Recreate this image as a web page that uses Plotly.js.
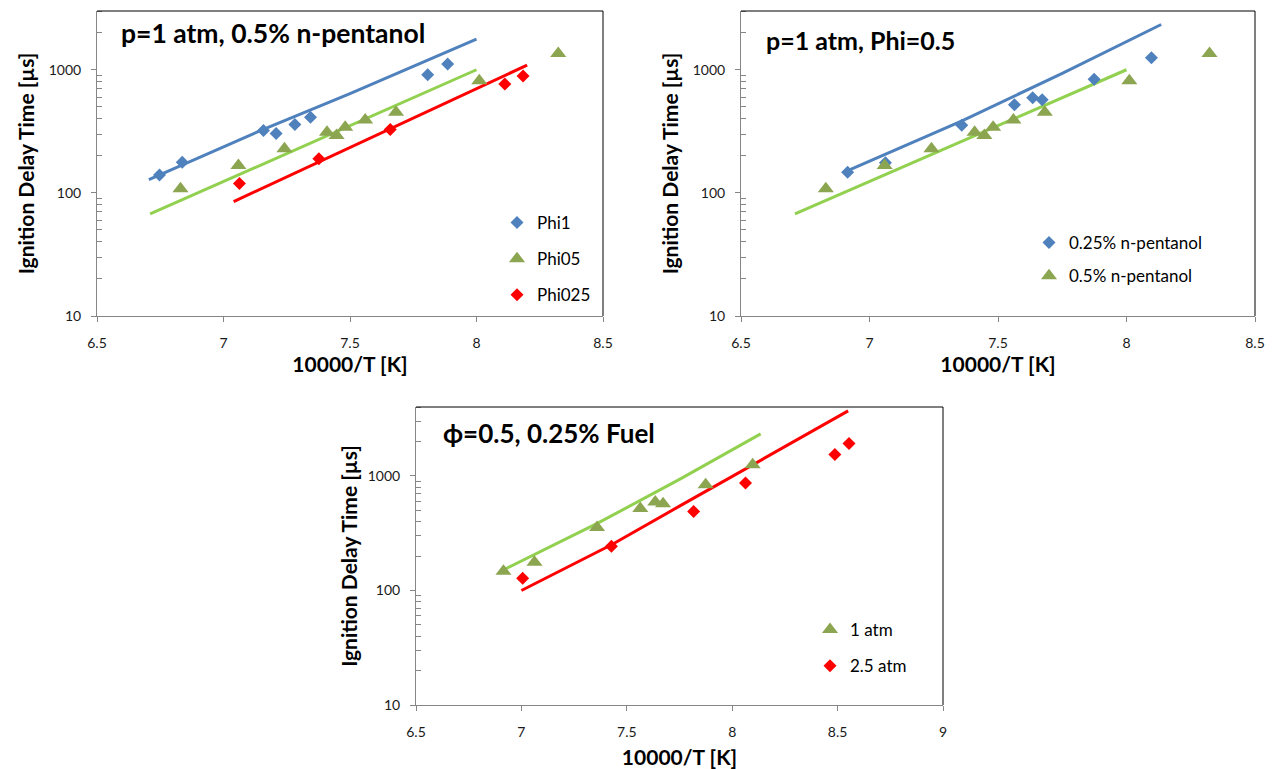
<!DOCTYPE html>
<html>
<head>
<meta charset="utf-8">
<script src="https://cdn.plot.ly/plotly-3.0.1.min.js"></script>
<style>html,body{margin:0;padding:0;background:#fff;}#chart{width:1274px;height:769px;}</style>
</head>
<body>
<div id="chart"></div>
<script>
// ---- Top-left panel: p=1 atm, 0.5% n-pentanol ----
const phi1X = [6.747, 6.837, 7.158, 7.208, 7.282, 7.344, 7.807, 7.886];
const phi1Y = [140, 177, 321, 303, 359, 411, 910, 1111];
const phi05X = [6.830, 7.059, 7.241, 7.409, 7.447, 7.481, 7.560, 7.682, 8.011, 8.323];
const phi05Y = [108, 167, 228, 311, 292, 341, 391, 452, 815, 1355];
const phi025X = [7.063, 7.377, 7.659, 8.112, 8.184];
const phi025Y = [119, 189, 327, 765, 889];
const phi1ModelX = [6.705, 7.16, 7.5, 8.0];
const phi1ModelY = [128, 330, 640, 1770];
const phi05ModelX = [6.71, 7.0, 7.5, 8.0];
const phi05ModelY = [67.5, 124, 352, 1000];
const phi025ModelX = [7.04, 7.5, 8.0, 8.2];
const phi025ModelY = [85, 235, 707, 1090];

// ---- Top-right panel: p=1 atm, Phi=0.5 ----
const pent025X = [6.915, 7.062, 7.359, 7.564, 7.635, 7.672, 7.874, 8.097];
const pent025Y = [147, 176, 354, 520, 593, 571, 839, 1250];
const pent025ModelX = [6.92, 7.36, 7.75, 8.135];
const pent025ModelY = [153, 385, 934, 2330];

// ---- Bottom panel: phi=0.5, 0.25% fuel ----
const atm25X = [7.006, 7.427, 7.817, 8.063, 8.487, 8.554];
const atm25Y = [128, 243, 490, 867, 1538, 1923];
const atm25ModelX = [7.0, 7.43, 7.75, 8.55];
const atm25ModelY = [100, 252, 545, 3700];

const yTickVals = [10, 100, 1000];
const yTickText = ['10', '100', '1000'];

const FONT = 'Lato, "Open Sans", sans-serif';
const BLUE = '#4F81BD', OLIVE = '#8CA550', GREEN = '#92D050', RED = '#FF0000';

function lineTrace(x, y, color, xa, ya) {
  return {x, y, xaxis: xa, yaxis: ya, mode: 'lines', type: 'scatter',
    line: {color, width: 3}, showlegend: false, hoverinfo: 'skip'};
}
function markTrace(x, y, name, symbol, color, size, xa, ya, legend, grp) {
  return {x, y, xaxis: xa, yaxis: ya, mode: 'markers', type: 'scatter', name,
    marker: {symbol, color, size}, legend, legendgroup: grp};
}

const data = [
  lineTrace(phi1ModelX, phi1ModelY, BLUE, 'x', 'y'),
  lineTrace(phi05ModelX, phi05ModelY, GREEN, 'x', 'y'),
  lineTrace(phi025ModelX, phi025ModelY, RED, 'x', 'y'),
  markTrace(phi1X, phi1Y, 'Phi1', 'diamond', BLUE, 10, 'x', 'y', 'legend', 'a1'),
  markTrace(phi05X, phi05Y, 'Phi05', 'triangle-up', OLIVE, 14, 'x', 'y', 'legend', 'a2'),
  markTrace(phi025X, phi025Y, 'Phi025', 'diamond', RED, 10, 'x', 'y', 'legend', 'a3'),

  lineTrace(pent025ModelX, pent025ModelY, BLUE, 'x2', 'y2'),
  lineTrace(phi05ModelX, phi05ModelY, GREEN, 'x2', 'y2'),
  markTrace(pent025X, pent025Y, '0.25% n-pentanol', 'diamond', BLUE, 10, 'x2', 'y2', 'legend2', 'b1'),
  markTrace(phi05X, phi05Y, '0.5% n-pentanol', 'triangle-up', OLIVE, 14, 'x2', 'y2', 'legend2', 'b2'),

  lineTrace(pent025ModelX, pent025ModelY, GREEN, 'x3', 'y3'),
  lineTrace(atm25ModelX, atm25ModelY, RED, 'x3', 'y3'),
  markTrace(pent025X, pent025Y, '1 atm', 'triangle-up', OLIVE, 14, 'x3', 'y3', 'legend3', 'c1'),
  markTrace(atm25X, atm25Y, '2.5 atm', 'diamond', RED, 10, 'x3', 'y3', 'legend3', 'c2')
];

const W = 1274, H = 769;
const px = v => v / W;
const py = v => 1 - v / H;

function minorVals(maxV) {
  const out = [];
  [10, 100, 1000].forEach(d => { for (let k = 2; k <= 9; k++) { if (k * d <= maxV) out.push(k * d); } });
  return out;
}

function xax(domain, range, anchor, standoff) {
  return {domain, range, anchor, tick0: 6.5, dtick: 0.5, ticks: 'outside', ticklen: 5,
    tickcolor: '#868686', showline: true, linecolor: '#868686', linewidth: 1,
    showgrid: false, zeroline: false, ticklabelstandoff: 9,
    tickfont: {size: 14, color: '#1a1a1a', family: FONT},
    title: {text: '<b>10000/T [K]</b>', font: {size: 21, color: '#000', family: FONT}, standoff},
    fixedrange: true};
}
function yax(domain, maxV, anchor, standoff) {
  return {type: 'log', domain, range: [1, Math.log10(maxV)], anchor,
    tickvals: yTickVals, ticktext: yTickText, ticks: 'outside', ticklen: 5,
    tickcolor: '#868686', showline: true, linecolor: '#868686', linewidth: 1,
    showgrid: false, zeroline: false, ticklabelstandoff: 7,
    tickfont: {size: 14, color: '#1a1a1a', family: FONT},
    minor: {tickvals: minorVals(maxV), ticks: 'inside', ticklen: 5, tickcolor: '#868686', showgrid: false},
    title: {text: '<b>Ignition Delay Time [µs]</b>', font: {size: 21, color: '#000', family: FONT}, standoff},
    fixedrange: true};
}

function frame(xa, ya) {
  return [
    {type: 'line', xref: xa + ' domain', yref: ya + ' domain', x0: 0, x1: 1, y0: 1, y1: 1, line: {color: '#000', width: 1}},
    {type: 'line', xref: xa + ' domain', yref: ya + ' domain', x0: 1, x1: 1, y0: 0, y1: 1, line: {color: '#000', width: 1}}
  ];
}

function legendObj(xText, yTop, gap) {
  return {x: px(xText - 40), xanchor: 'left', y: py(yTop), yanchor: 'top',
    font: {size: 17, color: '#000', family: FONT}, bgcolor: 'rgba(0,0,0,0)',
    traceorder: 'grouped', tracegroupgap: gap, itemclick: false, itemdoubleclick: false};
}

const topY = [py(316), py(11)];
const botY = [py(705), py(407)];

const layout = {
  width: W, height: H,
  margin: {l: 0, r: 0, t: 0, b: 0},
  paper_bgcolor: '#fff', plot_bgcolor: '#fff',
  font: {family: FONT},
  showlegend: true,
  xaxis: xax([px(97), px(603)], [6.5, 8.5], 'y', 3),
  yaxis: yax(topY, 3000, 'x', 8),
  xaxis2: xax([px(741), px(1255)], [6.5, 8.5], 'y2', 3),
  yaxis2: yax(topY, 3000, 'x2', 8),
  xaxis3: xax([px(416), px(943)], [6.5, 9], 'y3', 12),
  yaxis3: yax(botY, 4000, 'x3', 4),
  legend: legendObj(537, 205, 11),
  legend2: legendObj(1069, 225, 8),
  legend3: legendObj(850, 612, 11),
  shapes: [].concat(frame('x', 'y'), frame('x2', 'y2'), frame('x3', 'y3')),
  annotations: [
    {text: '<b>p=1 atm, 0.5% n-pentanol</b>', xref: 'paper', yref: 'paper', x: px(119), y: py(33),
      xanchor: 'left', yanchor: 'middle', showarrow: false, font: {size: 26.5, color: '#000', family: FONT}},
    {text: '<b>p=1 atm, Phi=0.5</b>', xref: 'paper', yref: 'paper', x: px(764), y: py(40),
      xanchor: 'left', yanchor: 'middle', showarrow: false, font: {size: 25, color: '#000', family: FONT}},
    {text: '<b>ϕ=0.5, 0.25% Fuel</b>', xref: 'paper', yref: 'paper', x: px(441), y: py(433),
      xanchor: 'left', yanchor: 'middle', showarrow: false, font: {size: 26, color: '#000', family: FONT}}
  ]
};

Plotly.newPlot('chart', data, layout, {staticPlot: true, displayModeBar: false});
</script>
</body>
</html>
